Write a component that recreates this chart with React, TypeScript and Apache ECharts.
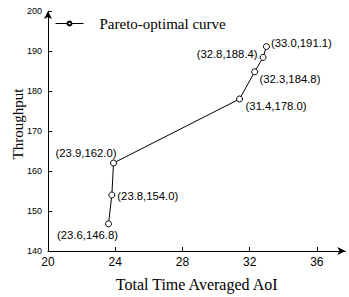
import React, { useEffect, useRef } from "react";
import * as echarts from "echarts";

const aoi = [23.6, 23.8, 23.9, 31.4, 32.3, 32.8, 33.0];
const throughput = [146.8, 154.0, 162.0, 178.0, 184.8, 188.4, 191.1];
const xTicks = [20, 24, 28, 32, 36];
const seriesName = "Pareto-optimal curve";
const xName = "Total Time Averaged AoI";
const yName = "Throughput";

// label placement (style only)
const labelPlacement: any[] = [
  { position: "bottom", distance: 2.5, offset: [-21, 0] },
  { position: "right", distance: 2, offset: [0, 1] },
  { position: "top", distance: 1, offset: [-27.5, 0] },
  { position: "bottom", distance: -1.8, offset: [36.5, 0] },
  { position: "right", distance: 1.3, offset: [0, 7] },
  { position: "left", distance: 2, offset: [0, -3] },
  { position: "right", distance: 1, offset: [0, -4] },
];

const SERIF = "'Liberation Serif', 'Times New Roman', serif";
const SANS = "'Liberation Sans', Arial, sans-serif";

export default function App() {
  const ref = useRef<HTMLDivElement>(null);
  useEffect(() => {
    if (!ref.current) return;
    const chart = echarts.init(ref.current, null, { renderer: "svg" });
    const data = aoi.map((x, i) => ({
      value: [x, throughput[i]],
      label: {
        show: true,
        position: labelPlacement[i].position,
        distance: labelPlacement[i].distance,
        offset: labelPlacement[i].offset,
      },
    }));
    chart.setOption({
      animation: false,
      grid: { left: 48, right: 3.6, top: 11, bottom: 46 },
      legend: {
        left: 55,
        top: 16,
        padding: 0,
        itemWidth: 28,
        itemHeight: 5,
        data: [seriesName],
        lineStyle: { width: 1 },
        textStyle: { fontFamily: SERIF, fontSize: 15, color: "#000", padding: [0, 0, 0, 11] },
      },
      graphic: [
        {
          type: "text",
          x: 17.5,
          y: 124,
          rotation: Math.PI / 2,
          style: {
            text: yName,
            font: `15px ${SERIF}`,
            fill: "#000",
            textAlign: "center",
            textVerticalAlign: "middle",
          },
        },
      ],
      xAxis: {
        type: "value",
        min: 20,
        max: 37.7,
        interval: 4,
        name: xName,
        nameLocation: "middle",
        nameGap: 25,
        nameTextStyle: { fontFamily: SERIF, fontSize: 16, color: "#000" },
        axisLine: {
          lineStyle: { color: "#000", width: 1 },
          symbol: ["none", "arrow"],
          symbolSize: [6, 8],
        },
        axisTick: { inside: true, length: 4, lineStyle: { color: "#000" }, customValues: xTicks },
        axisLabel: { fontFamily: SANS, fontSize: 12, color: "#000", margin: 5, customValues: xTicks },
        splitLine: { show: false },
      },
      yAxis: {
        type: "value",
        min: 140,
        max: 200,
        interval: 10,
        axisLine: {
          show: true,
          lineStyle: { color: "#000", width: 1 },
          symbol: ["none", "arrow"],
          symbolSize: [6, 8],
        },
        axisTick: { show: true, inside: true, length: 4, lineStyle: { color: "#000" } },
        axisLabel: { fontFamily: SANS, fontSize: 9, color: "#000", margin: 6 },
        splitLine: { show: false },
      },
      series: [
        {
          name: seriesName,
          type: "line",
          data,
          symbol: "circle",
          symbolSize: 6,
          showAllSymbol: true,
          lineStyle: { color: "#000", width: 1 },
          itemStyle: { color: "#fff", borderColor: "#000", borderWidth: 1 },
          label: {
            fontFamily: SANS,
            fontSize: 11.3,
            color: "#000",
            formatter: (p: any) =>
              `(${p.value[0].toFixed(1)},${p.value[1].toFixed(1)})`,
          },
          emphasis: { disabled: true },
        },
      ],
    });
    return () => chart.dispose();
  }, []);
  return <div ref={ref} style={{ width: 349, height: 297, position: "absolute", left: 0, top: 0, background: "#fff" }} />;
}
